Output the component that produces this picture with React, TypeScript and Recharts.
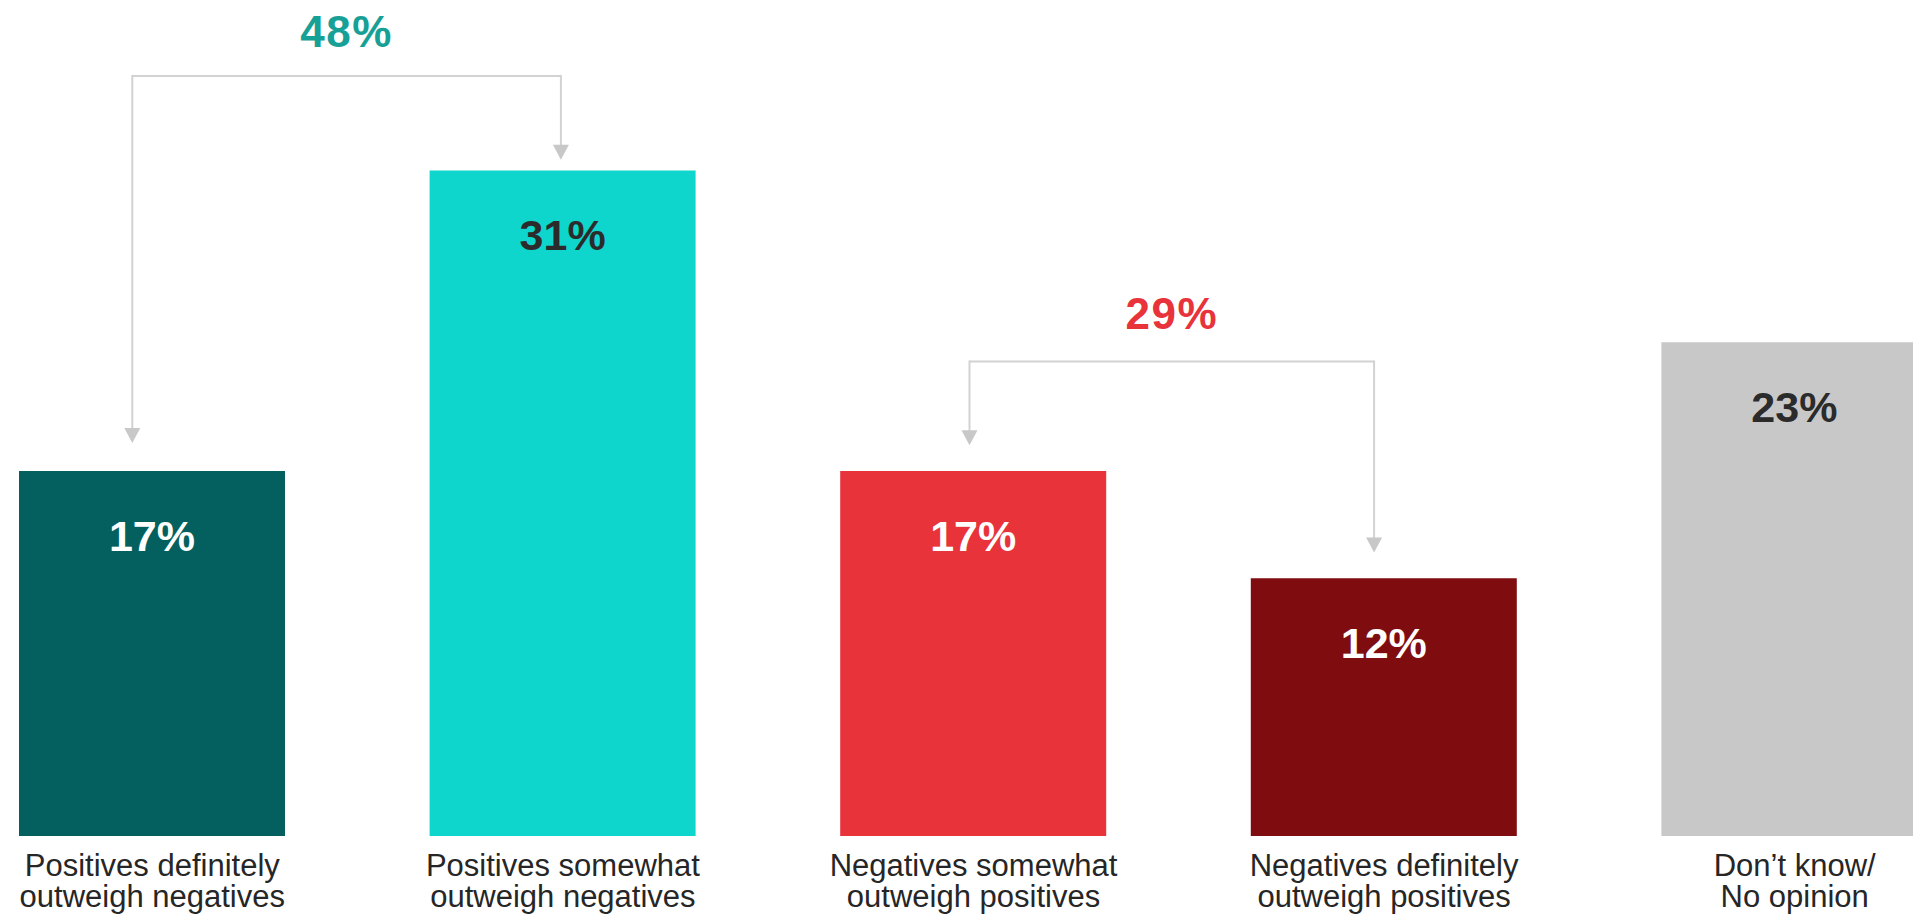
import { Bar, BarChart, Cell, LabelList, ReferenceLine, XAxis, YAxis } from 'recharts';

const categories = [
  'Positives definitely\noutweigh negatives',
  'Positives somewhat\noutweigh negatives',
  'Negatives somewhat\noutweigh positives',
  'Negatives definitely\noutweigh positives',
  'Don’t know/\nNo opinion',
];
const shares = [17, 31, 17, 12, 23];
const barColors = ['#03605e', '#0fd6cc', '#e8333a', '#7f0d10', '#c8c8c8'];
const labelColors = ['#ffffff', '#2b2b2b', '#ffffff', '#ffffff', '#2b2b2b'];

// net groups shown as brackets above the bars
const groupTotals = ['48%', '29%'];
const groupColors = ['#17a096', '#e8333a'];
const groupFrom = [0, 2];
const groupTo = [1, 3];
const groupLevel = [35.4, 22.1];
const arrowFromTip = [18.3, 18.2];
const arrowToTip = [31.5, 13.2];

const data = categories.map((name, i) => ({ name, value: shares[i] }));

const FONT = '"Liberation Sans", Arial, sans-serif';
const LINE = '#d2d2d2';
const bracketShift = [
  [-20, -2],
  [-4, -10],
];
const totalLift = [29, 33];

const CategoryTick = (props: any) => {
  const { x, y, payload } = props;
  const lines = String(payload.value).split('\n');
  return (
    <text textAnchor="middle" fontFamily={FONT} fontSize={31} fill="#262626">
      {lines.map((l, i) => (
        <tspan key={i} x={x} y={y + 40 + i * 31}>
          {l}
        </tspan>
      ))}
    </text>
  );
};

const ValueLabel = (props: any) => {
  const { x, y, width, value, index } = props;
  return (
    <text
      x={x + width / 2}
      y={y + 80}
      textAnchor="middle"
      fontFamily={FONT}
      fontWeight="bold"
      fontSize={43}
      fill={labelColors[index]}
    >
      {value}%
    </text>
  );
};

const bracketTop = (g: number) => (p: any) => {
  const x1 = p.x1 + bracketShift[g][0];
  const x2 = p.x2 + bracketShift[g][1];
  return (
    <g>
      <line x1={x1} y1={p.y1} x2={x2} y2={p.y2} stroke={LINE} strokeWidth={2} />
      <text
        x={(x1 + x2) / 2}
        y={p.y1 - totalLift[g]}
        textAnchor="middle"
        fontFamily={FONT}
        fontWeight="bold"
        fontSize={44}
        letterSpacing={1.5}
        fill={groupColors[g]}
      >
        {groupTotals[g]}
      </text>
    </g>
  );
};

const arrowDown = (shift: number) => (p: any) => {
  const x = p.x1 + shift;
  const tip = p.y2;
  return (
    <g>
      <line x1={x} y1={p.y1 - 1} x2={x} y2={tip - 14} stroke={LINE} strokeWidth={2} />
      <path d={`M${x - 8},${tip - 15}L${x + 8},${tip - 15}L${x},${tip}Z`} fill="#c8c8c8" />
    </g>
  );
};

export default function App() {
  return (
    <div
      style={{
        position: 'absolute',
        left: 0,
        top: 0,
        width: 1913,
        height: 914,
        overflow: 'hidden',
        background: '#fff',
      }}
    >
      <div style={{ position: 'absolute', left: -53, top: 0 }}>
        <BarChart
          width={2053}
          height={914}
          data={data}
          margin={{ top: 9.4, right: 0, bottom: 0, left: 0 }}
        >
          <XAxis
            dataKey="name"
            height={78}
            axisLine={false}
            tickLine={false}
            tickSize={0}
            tickMargin={0}
            interval={0}
            tick={<CategoryTick />}
          />
          <YAxis hide domain={[0, 38.5]} />
          <Bar dataKey="value" barSize={266} isAnimationActive={false}>
            {data.map((d, i) => (
              <Cell key={d.name} fill={barColors[i]} />
            ))}
            <LabelList dataKey="value" content={<ValueLabel />} />
          </Bar>
          {groupTotals.map((t, g) => (
            <ReferenceLine
              key={`top-${t}`}
              segment={[
                { x: categories[groupFrom[g]], y: groupLevel[g] },
                { x: categories[groupTo[g]], y: groupLevel[g] },
              ]}
              shape={bracketTop(g)}
            />
          ))}
          {groupTotals.map((t, g) => (
            <ReferenceLine
              key={`from-${t}`}
              segment={[
                { x: categories[groupFrom[g]], y: groupLevel[g] },
                { x: categories[groupFrom[g]], y: arrowFromTip[g] },
              ]}
              shape={arrowDown(bracketShift[g][0])}
            />
          ))}
          {groupTotals.map((t, g) => (
            <ReferenceLine
              key={`to-${t}`}
              segment={[
                { x: categories[groupTo[g]], y: groupLevel[g] },
                { x: categories[groupTo[g]], y: arrowToTip[g] },
              ]}
              shape={arrowDown(bracketShift[g][1])}
            />
          ))}
        </BarChart>
      </div>
    </div>
  );
}
